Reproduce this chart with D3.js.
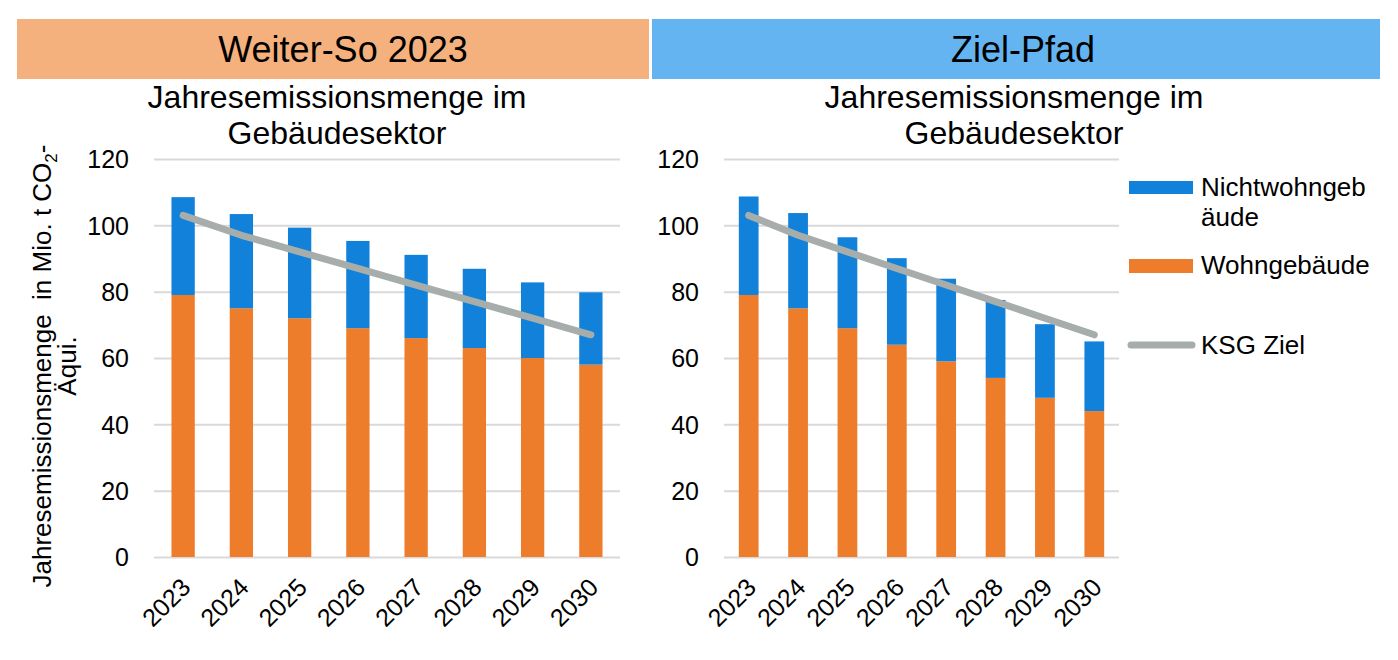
<!DOCTYPE html>
<html>
<head>
<meta charset="utf-8">
<script src="https://cdn.jsdelivr.net/npm/d3@7"></script>
<style>
  body { margin: 0; background: #fff; }
  svg text { font-family: "Liberation Sans", Arial, sans-serif; fill: #000; }
</style>
</head>
<body>
<svg id="chart" width="1398" height="660"></svg>
<script>
/* data (Mio. t CO2-Aequi.) */
var years = ["2023", "2024", "2025", "2026", "2027", "2028", "2029", "2030"];
var weiterWohn = [79, 75, 72, 69, 66, 63, 60, 58];
var weiterNicht = [29.5, 28.4, 27.3, 26.3, 25.1, 23.9, 22.8, 21.8];
var zielWohn = [79, 75, 69, 64, 59, 54, 48, 44];
var zielNicht = [29.7, 28.7, 27.4, 26.1, 24.9, 23.5, 22.2, 21.0];
var ksgZiel = [103, 97, 92, 87, 82, 77, 72, 67];
var yTicks = [0, 20, 40, 60, 80, 100, 120];

var colWohn = "#ee7d2b",
    colNicht = "#1281d9",
    colKsg = "#a6adaa",
    colGrid = "#d9d9d9";

var svg = d3.select("#chart");

/* header boxes */
var headers = [
    {label: "Weiter-So 2023", x0: 17, x1: 649, tx: 343, fill: "#f4b07d"},
    {label: "Ziel-Pfad", x0: 652, x1: 1380, tx: 1023, fill: "#64b4f1"}
];
headers.forEach(function(h) {
    svg.append("rect")
        .attr("x", h.x0).attr("y", 19)
        .attr("width", h.x1 - h.x0).attr("height", 60)
        .attr("fill", h.fill);
    svg.append("text")
        .attr("x", h.tx).attr("y", 62)
        .attr("text-anchor", "middle")
        .style("font-size", "36px")
        .text(h.label);
});

var yScale = d3.scaleLinear().domain([0, 120]).range([557, 159]);

function panel(left, right, titleX, wohn, nicht) {
    var xScale = d3.scaleBand()
        .domain(years)
        .range([left, right])
        .paddingInner(0.6)
        .paddingOuter(0.3);

    /* chart title */
    var t = svg.append("text")
        .attr("text-anchor", "middle")
        .style("font-size", "32px");
    t.append("tspan").attr("x", titleX).attr("y", 108).text("Jahresemissionsmenge im");
    t.append("tspan").attr("x", titleX).attr("y", 144).text("Gebäudesektor");

    /* y axis with gridlines */
    var yAxisG = svg.append("g")
        .attr("transform", "translate(" + left + ",0)")
        .call(d3.axisLeft(yScale).tickValues(yTicks).tickSize(-(right - left)).tickPadding(25));
    yAxisG.select(".domain").remove();
    yAxisG.selectAll(".tick line").attr("stroke", colGrid).attr("stroke-width", 2);
    yAxisG.selectAll(".tick text")
        .attr("fill", "#000")
        .style("font-size", "25px")
        .attr("dy", "0.35em");

    /* stacked bars */
    var rows = years.map(function(y, i) { return {year: y, wohn: wohn[i], nicht: nicht[i]}; });
    var stack = d3.stack().keys(["wohn", "nicht"])(rows);
    var colors = {wohn: colWohn, nicht: colNicht};

    svg.append("g").selectAll("g")
        .data(stack)
        .enter().append("g")
            .attr("fill", function(s) { return colors[s.key]; })
        .selectAll("rect")
        .data(function(s) { return s; })
        .enter().append("rect")
            .attr("x", function(d) { return xScale(d.data.year); })
            .attr("width", xScale.bandwidth())
            .attr("y", function(d) { return yScale(d[1]); })
            .attr("height", function(d) { return yScale(d[0]) - yScale(d[1]); });

    /* KSG target line */
    var line = d3.line()
        .x(function(d, i) { return xScale(years[i]) + xScale.bandwidth() / 2; })
        .y(function(d) { return yScale(d); });
    svg.append("path")
        .datum(ksgZiel)
        .attr("d", line)
        .attr("fill", "none")
        .attr("stroke", colKsg)
        .attr("stroke-width", 7)
        .attr("stroke-linecap", "round")
        .attr("stroke-linejoin", "round");

    /* x axis, rotated year labels */
    var xAxisG = svg.append("g")
        .attr("transform", "translate(0,557)")
        .call(d3.axisBottom(xScale).tickSize(0));
    xAxisG.select(".domain").remove();
    xAxisG.selectAll(".tick text")
        .attr("fill", "#000")
        .style("font-size", "25px")
        .attr("x", 0).attr("y", 0).attr("dy", 0)
        .attr("text-anchor", "end")
        .attr("transform", "translate(9,32) rotate(-45)");
}

panel(154, 620, 337, weiterWohn, weiterNicht);
panel(724, 1119, 1014, zielWohn, zielNicht);

/* y axis title (left panel only) */
var yt = svg.append("text")
    .attr("transform", "translate(51,366) rotate(-90)")
    .attr("text-anchor", "middle")
    .style("font-size", "26px")
    .style("white-space", "pre");
var l1 = yt.append("tspan").attr("x", 0).attr("y", 0);
l1.append("tspan").text("Jahresemissionsmenge  in Mio. t CO");
l1.append("tspan").attr("dy", 6).style("font-size", "17px").text("2");
l1.append("tspan").attr("dy", -6).text("-");
yt.append("tspan").attr("x", 0).attr("y", 25).text("Äqui.");

/* legend */
var legend = svg.append("g");
legend.append("rect").attr("x", 1129).attr("y", 181).attr("width", 64).attr("height", 13).attr("fill", colNicht);
legend.append("rect").attr("x", 1129).attr("y", 259).attr("width", 64).attr("height", 14).attr("fill", colWohn);
legend.append("line")
    .attr("x1", 1131).attr("x2", 1192).attr("y1", 345).attr("y2", 345)
    .attr("stroke", colKsg).attr("stroke-width", 7).attr("stroke-linecap", "round");

var legText = [
    {lines: ["Nichtwohngeb", "äude"], y: 196},
    {lines: ["Wohngebäude"], y: 274},
    {lines: ["KSG Ziel"], y: 354}
];
legText.forEach(function(l) {
    var tx = legend.append("text").style("font-size", "26px");
    l.lines.forEach(function(s, i) {
        tx.append("tspan").attr("x", 1201).attr("y", l.y + i * 30).text(s);
    });
});
</script>
</body>
</html>
